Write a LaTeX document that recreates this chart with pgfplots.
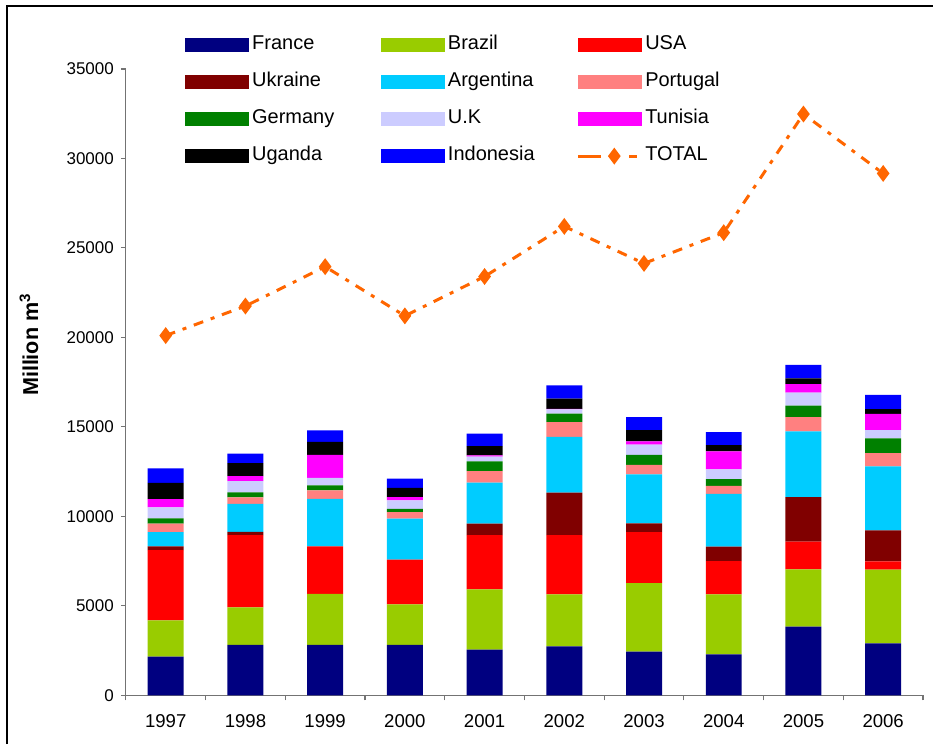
\documentclass[border=0pt]{standalone}
\usepackage{fontspec}
\setmainfont{Liberation Sans}
\usepackage{pgfplots}
\usepackage{pgfplotstable}
\pgfplotsset{compat=1.18}

\definecolor{cFrance}{HTML}{000080}
\definecolor{cBrazil}{HTML}{99CC00}
\definecolor{cUSA}{HTML}{FF0000}
\definecolor{cUkraine}{HTML}{800000}
\definecolor{cArgentina}{HTML}{00CCFF}
\definecolor{cPortugal}{HTML}{FF8080}
\definecolor{cGermany}{HTML}{008000}
\definecolor{cUK}{HTML}{CCCCFF}
\definecolor{cTunisia}{HTML}{FF00FF}
\definecolor{cUganda}{HTML}{000000}
\definecolor{cIndonesia}{HTML}{0000FF}
\definecolor{cTotal}{HTML}{FF6600}

% million m3 per year
\pgfplotstableread{
x France Brazil USA Ukraine Argentina Portugal Germany UK Tunisia Uganda Indonesia Total
0 2160 2030 3925 205 800 465 300 615 465 910 800 20100
1 2810 2100 4040 185 1565 355 280 630 280 725 540 21750
2 2810 2850 2660 0 2660 465 280 430 1285 725 635 23950
3 2810 2270 2495 0 2290 370 185 465 185 520 520 21200
4 2550 3370 3035 635 2290 650 540 260 75 520 690 23400
5 2735 2900 3315 2380 3110 820 485 225 40 560 745 26200
6 2440 3830 2850 485 2735 540 560 560 185 635 725 24130
7 2290 3350 1860 800 2960 445 375 540 1005 355 725 25850
8 3835 3200 1545 2495 3665 800 650 725 465 335 745 32480
9 2905 4110 465 1730 3575 745 820 465 910 260 800 29160
}\data

\pgfplotsset{
  base/.style={
    width=399pt, height=313.5pt, scale only axis,
    xmin=-0.5, xmax=9.5, ymin=0, ymax=35000,
  },
  barleg/.style={legend image code/.code={\fill[##1] (0pt,-3.5pt) rectangle (32pt,3.5pt);}},
  totleg/.style={legend image code/.code={%
    \draw[##1, mark=none, solid] (0pt,0pt) -- (11.5pt,0pt);
    \draw[##1, mark=none, solid] (25.5pt,0pt) -- (29.5pt,0pt);
    \draw[##1, draw=none] plot coordinates {(18pt,0pt)};}},
  totline/.style={draw=cTotal, line width=1.5pt, dash pattern=on 5pt off 4pt on 2pt off 4pt,
    mark=diamond*, mark size=3pt, mark options={solid, fill=cTotal, draw=cTotal}},
}

\begin{document}
\begin{tikzpicture}
\begin{pgfinterruptboundingbox}
\begin{axis}[
    base,
    ybar stacked, bar width=18pt,
    axis x line*=bottom, axis y line*=left,
    axis line style={black!55, line width=0.6pt},
    tick style={black!55, line width=0.6pt},
    tick align=outside,
    xtick={0,...,9},
    xticklabels={1997,1998,1999,2000,2001,2002,2003,2004,2005,2006},
    major x tick style={draw=none},
    minor xtick={-0.5,0.5,...,9.5},
    minor tick length=2.5pt,
    ytick={0,5000,...,35000},
    major tick length=2.5pt,
    scaled y ticks=false,
    /pgf/number format/assume math mode=true,
    /pgf/number format/set thousands separator={},
    yticklabel style={font=\fontsize{8.5}{10}\selectfont},
    xticklabel style={font=\fontsize{9.3}{11}\selectfont, yshift=-3.5pt},
    ylabel={\textbf{Million m\textsuperscript{3}}},
    ylabel style={at={(axis description cs:-0.1215,0.56)}, anchor=center, font=\fontsize{10.8}{12}\selectfont},
    legend columns=3,
    legend cell align=left,
    barleg,
    legend style={
      draw=none, fill=none, inner sep=0pt,
      at={(axis description cs:0.074,1.052)}, anchor=north west,
      font=\fontsize{10}{12}\selectfont,
      row sep=10pt, column sep=0pt,
      nodes={text width=63pt, text height=6.5pt, text depth=2pt, inner ysep=0pt, inner xsep=1.5pt},
    },
    every axis plot/.append style={draw=none},
]
\addplot[fill=cFrance] table[x=x, y=France] \data;
\addplot[fill=cBrazil] table[x=x, y=Brazil] \data;
\addplot[fill=cUSA] table[x=x, y=USA] \data;
\addplot[fill=cUkraine] table[x=x, y=Ukraine] \data;
\addplot[fill=cArgentina] table[x=x, y=Argentina] \data;
\addplot[fill=cPortugal] table[x=x, y=Portugal] \data;
\addplot[fill=cGermany] table[x=x, y=Germany] \data;
\addplot[fill=cUK] table[x=x, y=UK] \data;
\addplot[fill=cTunisia] table[x=x, y=Tunisia] \data;
\addplot[fill=cUganda] table[x=x, y=Uganda] \data;
\addplot[fill=cIndonesia] table[x=x, y=Indonesia] \data;
\addlegendimage{totline, totleg}
\legend{France,Brazil,USA,Ukraine,Argentina,Portugal,Germany,U.K,Tunisia,Uganda,Indonesia,TOTAL}
\end{axis}
\begin{axis}[base, hide axis]
\addplot[totline] table[x=x, y=Total] \data;
\end{axis}
\end{pgfinterruptboundingbox}
\draw[line width=1pt] (-59.5pt,-24.5pt) -- (-59.5pt,345pt) -- (404pt,345pt);
\path (-63pt,-24.5pt) rectangle (404pt,348pt);
\end{tikzpicture}
\end{document}
